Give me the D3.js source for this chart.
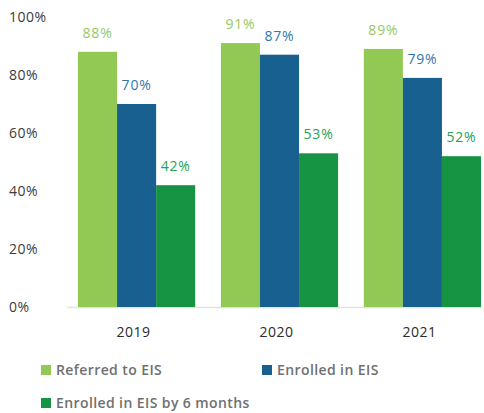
<!DOCTYPE html>
<html><head><meta charset="utf-8">
<script src="https://cdn.jsdelivr.net/npm/d3@7"></script>
<style>body{margin:0;background:#fff}svg{display:block}</style>
</head><body><svg id="c" width="484" height="413"></svg>
<script>
const years = ["2019","2020","2021"];
const seriesNames = ["Referred to EIS","Enrolled in EIS","Enrolled in EIS by 6 months"];
const referred = [88, 91, 89];
const enrolled = [70, 87, 79];
const enrolled6 = [42, 53, 52];
const yTicks = [0,20,40,60,80,100];

const barColors = ["#92c955","#17608f","#169444"];
const labelColors = ["#96c962","#2f78ad","#25a055"];
const values = [referred, enrolled, enrolled6];

const svg = d3.select("#c");
const y = d3.scaleLinear().domain([0,100]).range([307,17]);
const x0 = d3.scaleBand().domain(years).range([78,481]).paddingInner(0.18).paddingOuter(0);
const x1 = d3.scaleBand().domain([0,1,2]).range([0,x0.bandwidth()]);

const font = "'Open Sans', sans-serif";

// y axis labels
svg.append("g").selectAll("text").data(yTicks).join("text")
  .attr("x",9).attr("y",d=>y(d)+5)
  .attr("font-family",font).attr("font-size",14)
  .attr("letter-spacing",0.5).attr("fill","#3c3c3c")
  .text(d=>d+"%");

// baseline
svg.append("line").attr("x1",67).attr("x2",481).attr("y1",y(0)+0.5).attr("y2",y(0)+0.5)
  .attr("stroke","#e2e2e2").attr("stroke-width",1.5);

// bars
years.forEach((yr,i)=>{
  const g = svg.append("g").attr("transform",`translate(${x0(yr)},0)`);
  values.forEach((arr,s)=>{
    g.append("rect").attr("x",x1(s)).attr("width",x1.bandwidth())
      .attr("y",y(arr[i])).attr("height",y(0)-y(arr[i])).attr("fill",barColors[s]);
    g.append("text").attr("x",x1(s)+x1.bandwidth()/2).attr("y",y(arr[i])-14)
      .attr("text-anchor","middle").attr("font-family",font).attr("font-size",14)
      .attr("letter-spacing",0.8)
      .attr("fill",labelColors[s]).text(arr[i]+"%");
  });
  svg.append("text").attr("x",x0(yr)+x0.bandwidth()/2-3).attr("y",337)
    .attr("text-anchor","middle").attr("font-family",font).attr("font-size",14)
    .attr("letter-spacing",0.5)
    .attr("fill","#2a2a2a").text(yr);
});

// legend
const legendPos = [[41,370],[262,370],[41,403]];
seriesNames.forEach((n,s)=>{
  const [lx,ly] = legendPos[s];
  svg.append("rect").attr("x",lx).attr("y",ly-5).attr("width",10).attr("height",10).attr("fill",barColors[s]);
  svg.append("text").attr("x",lx+15).attr("y",ly+5).attr("font-family",font)
    .attr("font-size",14).attr("font-weight",600).attr("letter-spacing",0.4)
    .attr("fill","#707070").text(n);
});
</script></body></html>
